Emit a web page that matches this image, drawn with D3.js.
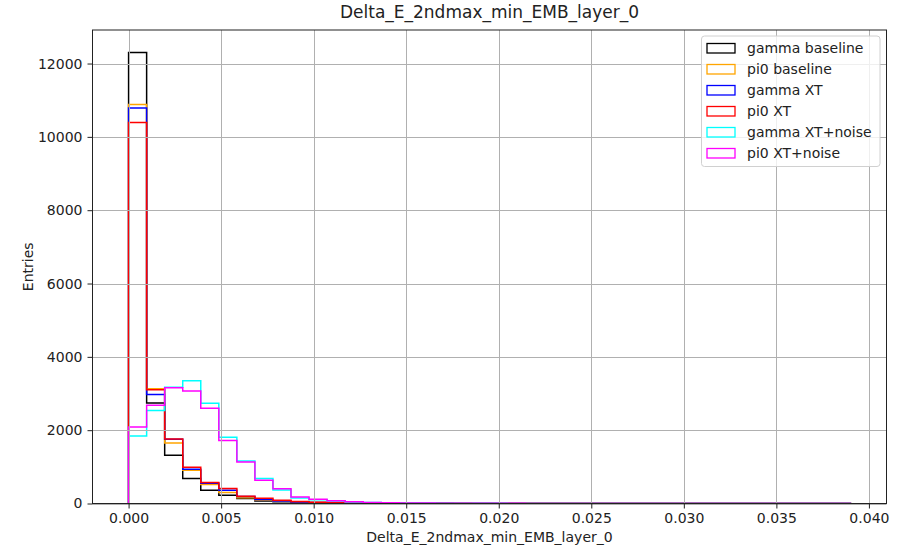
<!DOCTYPE html>
<html>
<head>
<meta charset="utf-8">
<script src="https://cdn.jsdelivr.net/npm/d3@7"></script>
<style>
  html, body { margin: 0; padding: 0; background: #fff; }
  text { font-family: "DejaVu Sans", sans-serif; fill: #222; }
</style>
</head>
<body>
<svg id="chart" width="906" height="548"></svg>
<script>
// Histogram binning: 40 equal bins spanning [0, 0.039]
const binLow = 0;
const binHigh = 0.039;
const binCount = 40;

const seriesNames = ["gamma baseline", "pi0 baseline", "gamma XT", "pi0 XT", "gamma XT+noise", "pi0 XT+noise"];
const seriesColors = ["#000000", "#ffa500", "#0000ff", "#ff0000", "#00ffff", "#ff00ff"];

// Entries per bin for each sample
const gammaBaseline = [12300, 2744, 1317, 681, 363, 226, 136, 71, 45, 30, 20, 14, 10, 8, 6, 5, 4, 3, 3, 2, 2, 2, 1, 1, 1, 1, 1, 1, 1, 0, 1, 0, 0, 1, 0, 0, 0, 0, 0, 1];
const pi0Baseline = [10880, 3130, 1653, 908, 518, 300, 160, 95, 60, 40, 27, 18, 12, 9, 7, 5, 4, 3, 3, 2, 2, 2, 1, 1, 1, 1, 1, 1, 1, 1, 0, 1, 0, 0, 1, 0, 0, 0, 0, 1];
const gammaXT = [10790, 2972, 1750, 935, 555, 363, 190, 110, 65, 40, 28, 20, 14, 10, 8, 6, 5, 4, 3, 3, 2, 2, 2, 1, 1, 1, 1, 1, 1, 1, 1, 0, 1, 0, 0, 1, 0, 0, 0, 1];
const pi0XT = [10390, 3100, 1760, 990, 572, 409, 200, 140, 90, 55, 35, 24, 16, 12, 9, 7, 5, 4, 4, 3, 3, 2, 2, 2, 1, 1, 1, 1, 1, 1, 1, 1, 0, 1, 0, 0, 1, 0, 0, 1];
const gammaXTNoise = [1843, 2540, 3170, 3350, 2735, 1808, 1162, 681, 370, 150, 100, 65, 42, 28, 20, 15, 11, 8, 6, 5, 4, 3, 3, 2, 2, 2, 1, 1, 1, 1, 1, 1, 1, 0, 1, 0, 0, 1, 0, 1];
const pi0XTNoise = [2089, 2680, 3160, 3071, 2600, 1720, 1135, 635, 400, 180, 115, 75, 48, 30, 22, 17, 12, 9, 7, 6, 5, 4, 3, 3, 2, 2, 2, 1, 1, 1, 1, 1, 1, 1, 0, 1, 0, 0, 1, 1];

const seriesValues = [gammaBaseline, pi0Baseline, gammaXT, pi0XT, gammaXTNoise, pi0XTNoise];

const xTicks = [0, 0.005, 0.010, 0.015, 0.020, 0.025, 0.030, 0.035, 0.040];
const yTicks = [0, 2000, 4000, 6000, 8000, 10000, 12000];

const titleText = "Delta_E_2ndmax_min_EMB_layer_0";
const xLabelText = "Delta_E_2ndmax_min_EMB_layer_0";
const yLabelText = "Entries";

// Layout
const plot = { left: 92.5, right: 886.5, top: 30, bottom: 503.5 };
const svg = d3.select("#chart");

const binWidth = (binHigh - binLow) / binCount;
const edges = d3.range(binCount + 1).map(i => binLow + i * binWidth);

const xPad = 0.05 * (binHigh - binLow);
const x = d3.scaleLinear()
  .domain([binLow - xPad, binHigh + xPad])
  .range([plot.left, plot.right]);

const yMax = d3.max(seriesValues, s => d3.max(s)) * 1.05;
const y = d3.scaleLinear()
  .domain([0, yMax])
  .range([plot.bottom, plot.top]);

// Step outlines
function stepPoints(values) {
  const pts = [[edges[0], 0]];
  values.forEach((v, i) => {
    pts.push([edges[i], v]);
    pts.push([edges[i + 1], v]);
  });
  pts.push([edges[edges.length - 1], 0]);
  return pts;
}
const line = d3.line().x(d => x(d[0])).y(d => y(d[1]));

svg.append("clipPath").attr("id", "plotClip")
  .append("rect")
  .attr("x", plot.left).attr("y", plot.top)
  .attr("width", plot.right - plot.left).attr("height", plot.bottom - plot.top);

const histG = svg.append("g").attr("clip-path", "url(#plotClip)");
seriesValues.forEach((vals, k) => {
  histG.append("path")
    .attr("d", line(stepPoints(vals)))
    .attr("fill", "none")
    .attr("stroke", seriesColors[k])
    .attr("stroke-width", 1.5)
    .attr("stroke-linejoin", "miter");
});

// Grid (drawn above the step patches)
const gridG = svg.append("g");
gridG.selectAll("line.gx").data(xTicks).enter().append("line")
  .attr("x1", d => Math.round(x(d)) + 0.5).attr("x2", d => Math.round(x(d)) + 0.5)
  .attr("y1", plot.top).attr("y2", plot.bottom)
  .attr("stroke", "#b0b0b0").attr("stroke-width", 1);
gridG.selectAll("line.gy").data(yTicks).enter().append("line")
  .attr("y1", d => Math.round(y(d)) + 0.5).attr("y2", d => Math.round(y(d)) + 0.5)
  .attr("x1", plot.left).attr("x2", plot.right)
  .attr("stroke", "#b0b0b0").attr("stroke-width", 1);

// Axes
const xAxis = d3.axisBottom(x).tickValues(xTicks).tickFormat(d3.format(".3f")).tickSize(5).tickPadding(5);
const yAxis = d3.axisLeft(y).tickValues(yTicks).tickFormat(d3.format("d")).tickSize(5).tickPadding(5);

const gx = svg.append("g").attr("transform", `translate(0,${plot.bottom})`).call(xAxis);
const gy = svg.append("g").attr("transform", `translate(${plot.left},0)`).call(yAxis);
[gx, gy].forEach(g => {
  g.select(".domain").remove();
  g.selectAll(".tick line").attr("stroke", "#222").attr("stroke-width", 1);
  g.selectAll(".tick text").style("font-size", "14px").style("font-family", "DejaVu Sans, sans-serif").attr("fill", "#222");
});

// Frame
svg.append("rect")
  .attr("x", plot.left).attr("y", plot.top)
  .attr("width", plot.right - plot.left).attr("height", plot.bottom - plot.top)
  .attr("fill", "none").attr("stroke", "#222").attr("stroke-width", 1);

// Titles
svg.append("text")
  .attr("x", (plot.left + plot.right) / 2).attr("y", 18)
  .attr("text-anchor", "middle").style("font-size", "17px")
  .text(titleText);
svg.append("text")
  .attr("x", (plot.left + plot.right) / 2).attr("y", 541.5)
  .attr("text-anchor", "middle").style("font-size", "14px")
  .text(xLabelText);
svg.append("text")
  .attr("transform", `translate(33,${(plot.top + plot.bottom) / 2}) rotate(-90)`)
  .attr("text-anchor", "middle").style("font-size", "14px")
  .text(yLabelText);

// Legend
const legend = { left: 701.5, top: 36, width: 178.5, height: 130.5, rowGap: 21, firstRow: 48 };
svg.append("rect")
  .attr("x", legend.left).attr("y", legend.top)
  .attr("width", legend.width).attr("height", legend.height)
  .attr("rx", 3).attr("ry", 3)
  .attr("fill", "#fff").attr("fill-opacity", 0.8)
  .attr("stroke", "#d0d0d0").attr("stroke-width", 1);
const items = svg.append("g").selectAll("g").data(seriesNames).enter().append("g")
  .attr("transform", (d, i) => `translate(0,${legend.firstRow + i * legend.rowGap})`);
items.append("rect")
  .attr("x", 707).attr("y", -4.5).attr("width", 28).attr("height", 9.5)
  .attr("fill", "none")
  .attr("stroke", (d, i) => seriesColors[i]).attr("stroke-width", 1.3);
items.append("text")
  .attr("x", 747).attr("y", 5)
  .style("font-size", "14px")
  .text(d => d);
</script>
</body>
</html>
